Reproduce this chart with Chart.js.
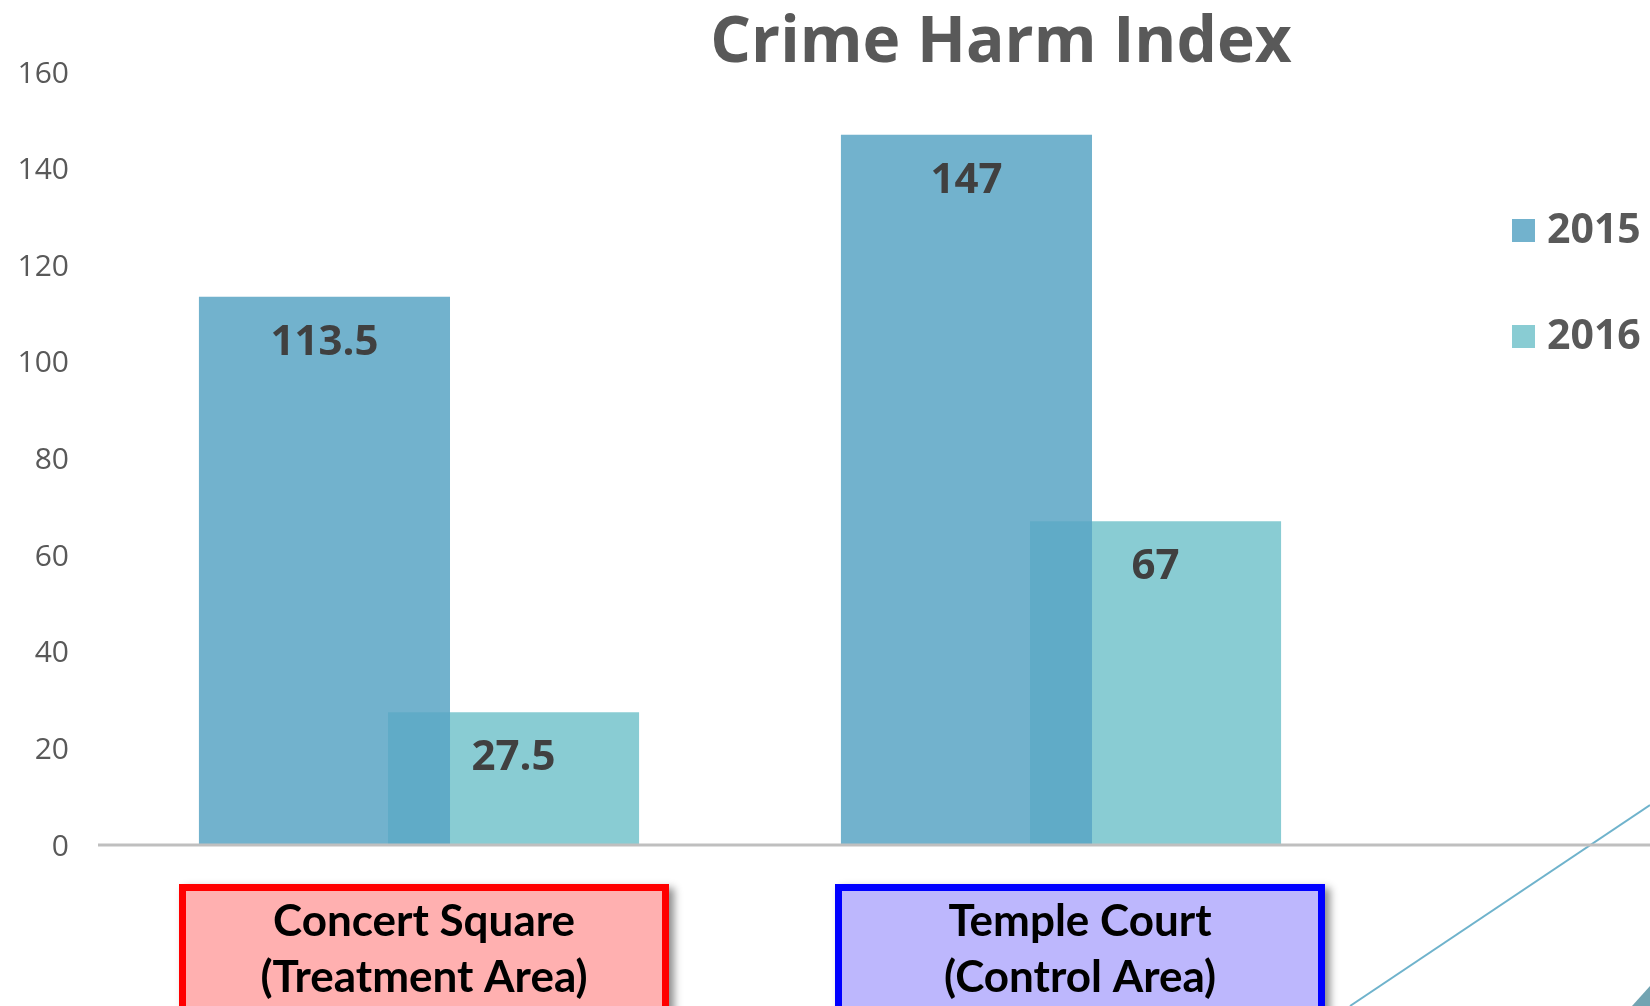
<!DOCTYPE html>
<html>
<head>
<meta charset="utf-8">
<script src="https://cdn.jsdelivr.net/npm/chart.js@4.4.1/dist/chart.umd.min.js"></script>
<style>
  html, body { margin: 0; padding: 0; background: #ffffff; }
  #wrap { width: 1650px; height: 1006px; position: relative; }
</style>
</head>
<body>
<div id="wrap"><canvas id="c" width="1650" height="1006"></canvas></div>
<script>
// ---- data ----
const chartTitle = "Crime Harm Index";
const categories = [["Concert Square", "(Treatment Area)"], ["Temple Court", "(Control Area)"]];
const seriesNames = ["2015", "2016"];
const values2015 = [113.5, 147];
const values2016 = [27.5, 67];
const yTicks = [0, 20, 40, 60, 80, 100, 120, 140, 160];

// ---- styles ----
const color2015 = "rgba(89,164,196,0.85)";
const color2015Legend = "#72B2CD";
const color2016 = "#89CCD3";
const boxStyles = [
  { border: "#FF0000", fill: "#FFB0B0", shift: 5 },
  { border: "#0000FF", fill: "#BDB7FD", shift: 19 }
];

const extrasPlugin = {
  id: "extras",
  beforeDraw(chart) {
    const ctx = chart.ctx;
    ctx.save();
    ctx.fillStyle = "#ffffff";
    ctx.fillRect(0, 0, chart.width, chart.height);
    // decorative diagonal line
    ctx.strokeStyle = "#6FB3CC";
    ctx.lineWidth = 2;
    ctx.beginPath();
    ctx.moveTo(1650, 805);
    ctx.lineTo(1350, 1006);
    ctx.stroke();
    // corner triangle
    ctx.fillStyle = "#72A4B2";
    ctx.beginPath();
    ctx.moveTo(1632, 1006);
    ctx.lineTo(1650, 986);
    ctx.lineTo(1650, 1006);
    ctx.closePath();
    ctx.fill();
    ctx.restore();
  },
  afterDatasetsDraw(chart) {
    const ctx = chart.ctx;
    const area = chart.chartArea;
    ctx.save();
    // baseline
    const y0 = chart.scales.y.getPixelForValue(0);
    ctx.strokeStyle = "#BFBFBF";
    ctx.lineWidth = 3;
    ctx.beginPath();
    ctx.moveTo(area.left, y0);
    ctx.lineTo(chart.width, y0);
    ctx.stroke();

    // value labels
    ctx.font = "bold 42px 'Open Sans'";
    ctx.fillStyle = "#404040";
    ctx.textAlign = "center";
    ctx.textBaseline = "middle";
    chart.data.datasets.forEach((ds, di) => {
      const meta = chart.getDatasetMeta(di);
      meta.data.forEach((el, i) => {
        ctx.fillText(String(ds.data[i]), el.x, el.y + 46);
      });
    });

    // title
    ctx.font = "bold 64px 'Open Sans'";
    ctx.fillStyle = "#595959";
    ctx.textAlign = "center";
    ctx.textBaseline = "alphabetic";
    ctx.fillText(chartTitle, 1001, 62);

    // legend
    const legendColors = [color2015Legend, color2016];
    const legendY = [230, 336];
    chart.data.datasets.forEach((ds, di) => {
      ctx.fillStyle = legendColors[di];
      ctx.fillRect(1512, legendY[di] - 11, 23, 23);
      ctx.font = "bold 41px 'Open Sans'";
      ctx.fillStyle = "#595959";
      ctx.textAlign = "left";
      ctx.textBaseline = "middle";
      ctx.fillText(ds.label, 1547, legendY[di] + 1);
    });

    // category boxes
    const xs = chart.scales.x;
    chart.data.labels.forEach((lines, i) => {
      const st = boxStyles[i];
      const cx = xs.getPixelForValue(i) + st.shift;
      const w = 490, top = 884, h = 140;
      const left = cx - w / 2;
      ctx.save();
      ctx.shadowColor = "rgba(0,0,0,0.45)";
      ctx.shadowBlur = 8;
      ctx.shadowOffsetX = 5;
      ctx.shadowOffsetY = 4;
      ctx.fillStyle = st.border;
      ctx.fillRect(left, top, w, h);
      ctx.restore();
      ctx.fillStyle = st.fill;
      ctx.fillRect(left + 7, top + 7, w - 14, h);
      ctx.font = "bold 44px Lato";
      ctx.fillStyle = "#000000";
      ctx.textAlign = "center";
      ctx.textBaseline = "alphabetic";
      ctx.fillText(lines[0], cx, 936);
      ctx.fillText(lines[1], cx, 992);
    });
    ctx.restore();
  }
};

new Chart(document.getElementById("c"), {
  type: "bar",
  data: {
    labels: categories,
    datasets: [
      { label: seriesNames[0], data: values2015, backgroundColor: color2015, borderWidth: 0 },
      { label: seriesNames[1], data: values2016, backgroundColor: color2016, borderWidth: 0 }
    ]
  },
  options: {
    responsive: false,
    animation: false,
    devicePixelRatio: 1,
    categoryPercentage: 0.589,
    barPercentage: 1.328,
    layout: { padding: { top: 72, right: 268, bottom: 161, left: 0 } },
    plugins: {
      legend: { display: false },
      title: { display: false },
      tooltip: { enabled: false }
    },
    scales: {
      x: {
        display: false,
        offset: true,
        grid: { display: false }
      },
      y: {
        min: 0,
        max: 160,
        afterBuildTicks(scale) { scale.ticks = yTicks.map(v => ({ value: v })); },
        afterFit(scale) { scale.width = 98; },
        grid: { display: false },
        border: { display: false },
        ticks: {
          padding: 21,
          labelOffset: 2,
          color: "#595959",
          font: { family: "'Open Sans'", size: 30 }
        }
      }
    }
  },
  plugins: [extrasPlugin]
});
</script>
</body>
</html>
